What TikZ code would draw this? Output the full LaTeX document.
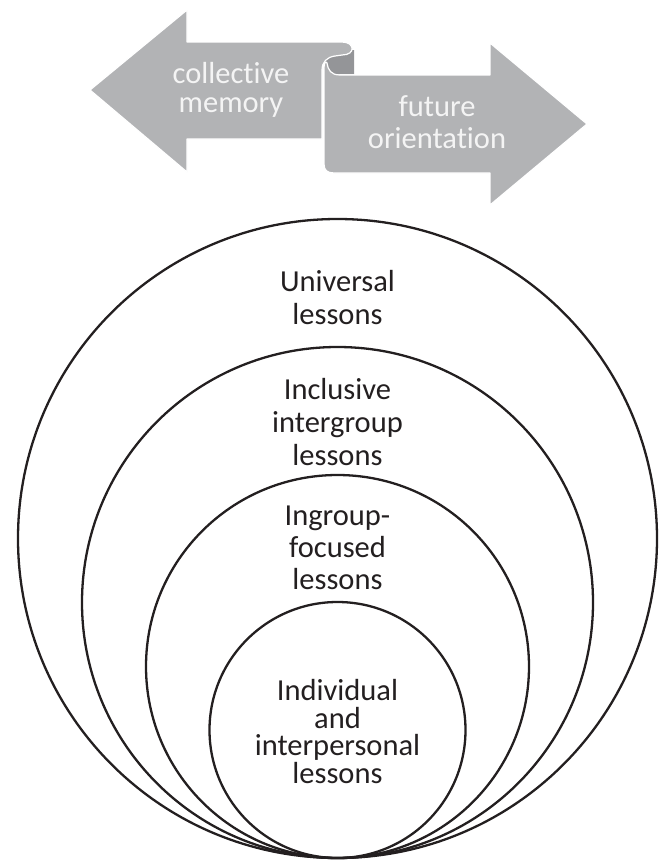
\documentclass[tikz,border=0pt]{standalone}
\usepackage{fontspec}
\setmainfont{Carlito}[Ligatures=NoCommon]
\definecolor{ribbon}{HTML}{B2B3B5}
\definecolor{ribbondark}{HTML}{949598}
\definecolor{ribbontext}{HTML}{F4F4F4}
\definecolor{ink}{HTML}{231F20}
\begin{document}
\begin{tikzpicture}[x=1pt,y=-1pt,
  ribbonpart/.style={fill=ribbon, draw=white, line width=1.2pt, line join=round},
  ring/.style={draw=ink, line width=2.3pt},
  ringlabel/.style={anchor=base, align=center, text=ink},
  ribbonlabel/.style={anchor=base, align=center, text=ribbontext}]
\useasboundingbox (0,0) rectangle (660,860);

% back of the rolled ribbon
\fill[ribbondark] (326,50) -- (354,50) -- (354,74) -- (333,74)
  .. controls (328,74) and (325,70) .. (325,64) -- cycle;

% left arrow: collective memory
\path[ribbonpart] (90,90) -- (187,10) -- (187,42) -- (342,42)
  .. controls (355,42) and (356,55) .. (342,55) -- (335,56)
  .. controls (327,57) and (322,62) .. (322,70) -- (322,139)
  -- (187,139) -- (187,172) -- cycle;

% right arrow: future orientation
\path[ribbonpart] (354,75) -- (490,75) -- (490,43) -- (587,124)
  -- (490,205) -- (490,173) -- (334,173)
  .. controls (327,173) and (324,170) .. (324,164) -- (324,68)
  .. controls (324,62) and (326,61) .. (327,63)
  .. controls (328,70) and (331,75) .. (340,75) -- cycle;

% labels are anchored at the baseline of their last line
\node[ribbonlabel, font=\fontsize{30.5}{29}\selectfont] (memory) at (231,112) {collective\\memory};
\node[ribbonlabel, font=\fontsize{30.5}{32}\selectfont] (future) at (437,148) {future\\orientation};

% nested circles, all touching at the bottom
\draw[ring] (337.5,538.5) circle[radius=319.5];
\draw[ring] (337.5,602.5) circle[radius=255.5];
\draw[ring] (337.5,666.5) circle[radius=191.5];
\draw[ring] (337.5,730) circle[radius=128];

\node[ringlabel, font=\fontsize{30.5}{33}\selectfont] (universal) at (337.5,324) {Universal\\lessons};
\node[ringlabel, font=\fontsize{30.5}{33}\selectfont] (inclusive) at (337.5,465) {Inclusive\\intergroup\\lessons};
\node[ringlabel, font=\fontsize{30.5}{32}\selectfont] (ingroup) at (337.5,589) {Ingroup-\\focused\\lessons};
\node[ringlabel, font=\fontsize{30.5}{27.5}\selectfont] (individual) at (337.5,783) {Individual\\and\\interpersonal\\lessons};
\end{tikzpicture}
\end{document}
